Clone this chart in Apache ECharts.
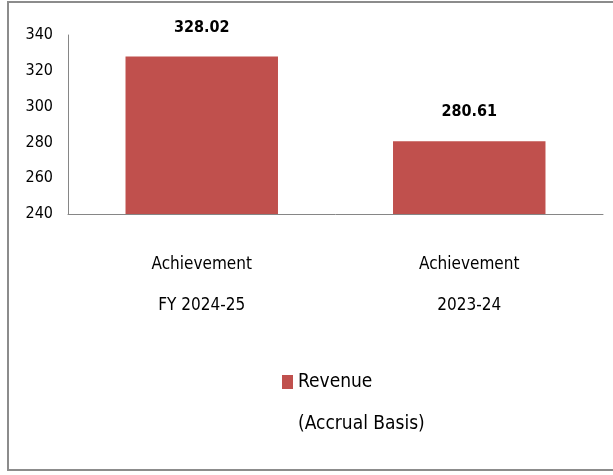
<!DOCTYPE html>
<html>
<head>
<meta charset="utf-8">
<script src="https://cdn.jsdelivr.net/npm/echarts@6/dist/echarts.min.js"></script>
<style>
  html, body { margin: 0; padding: 0; background: #ffffff; }
  #chart { width: 613px; height: 475px; }
</style>
</head>
<body>
<div id="chart"></div>
<script>
// Revenue achievement by period (Rs. crore)
const categories = ['Achievement\nFY 2024-25', 'Achievement\n2023-24'];
const revenueValues = [328.02, 280.61];
const seriesName = 'Revenue\n(Accrual Basis)';
const yTicks = { min: 240, max: 340, interval: 20 };

const FONT = '"DejaVu Sans Condensed", "Liberation Sans Narrow", sans-serif';
const BAR_RED = '#C0504D';
const AXIS_GREY = '#868686';
const LEGEND_LINE = 42;

const chart = echarts.init(document.getElementById('chart'), null, { renderer: 'canvas' });

chart.setOption({
  animation: false,
  backgroundColor: '#ffffff',
  graphic: [{
    type: 'rect',
    silent: true,
    z: -1,
    shape: { x: 8, y: 2, width: 640, height: 468 },
    style: { fill: 'none', stroke: '#8c8c8c', lineWidth: 2 }
  }],
  grid: { left: 68, top: 35, right: 10, bottom: 261 },
  legend: {
    left: 277,
    top: 314,
    itemWidth: 11,
    itemHeight: 14,
    icon: 'rect',
    data: [seriesName],
    // an empty first line keeps the swatch level with "Revenue"
    formatter: (name) => ' \n' + name,
    textStyle: {
      fontFamily: FONT,
      fontSize: 19,
      color: '#000000',
      lineHeight: LEGEND_LINE
    }
  },
  xAxis: {
    type: 'category',
    data: categories,
    axisLine: { lineStyle: { color: AXIS_GREY, width: 1 } },
    axisTick: { show: false },
    axisLabel: {
      margin: 30,
      fontFamily: FONT,
      fontSize: 17,
      lineHeight: 41,
      color: '#000000'
    }
  },
  yAxis: {
    type: 'value',
    min: yTicks.min,
    max: yTicks.max,
    interval: yTicks.interval,
    axisLine: { show: true, lineStyle: { color: AXIS_GREY, width: 1 } },
    axisTick: { show: false },
    splitLine: { show: false },
    axisLabel: {
      margin: 15,
      fontFamily: FONT,
      fontSize: 16,
      color: '#000000'
    }
  },
  series: [{
    name: seriesName,
    type: 'bar',
    data: revenueValues,
    barWidth: '57%',
    itemStyle: { color: BAR_RED },
    label: {
      show: true,
      position: 'top',
      distance: 21,
      fontFamily: FONT,
      fontSize: 16,
      fontWeight: 'bold',
      color: '#000000',
      formatter: (p) => p.value.toFixed(2)
    }
  }]
});
</script>
</body>
</html>
